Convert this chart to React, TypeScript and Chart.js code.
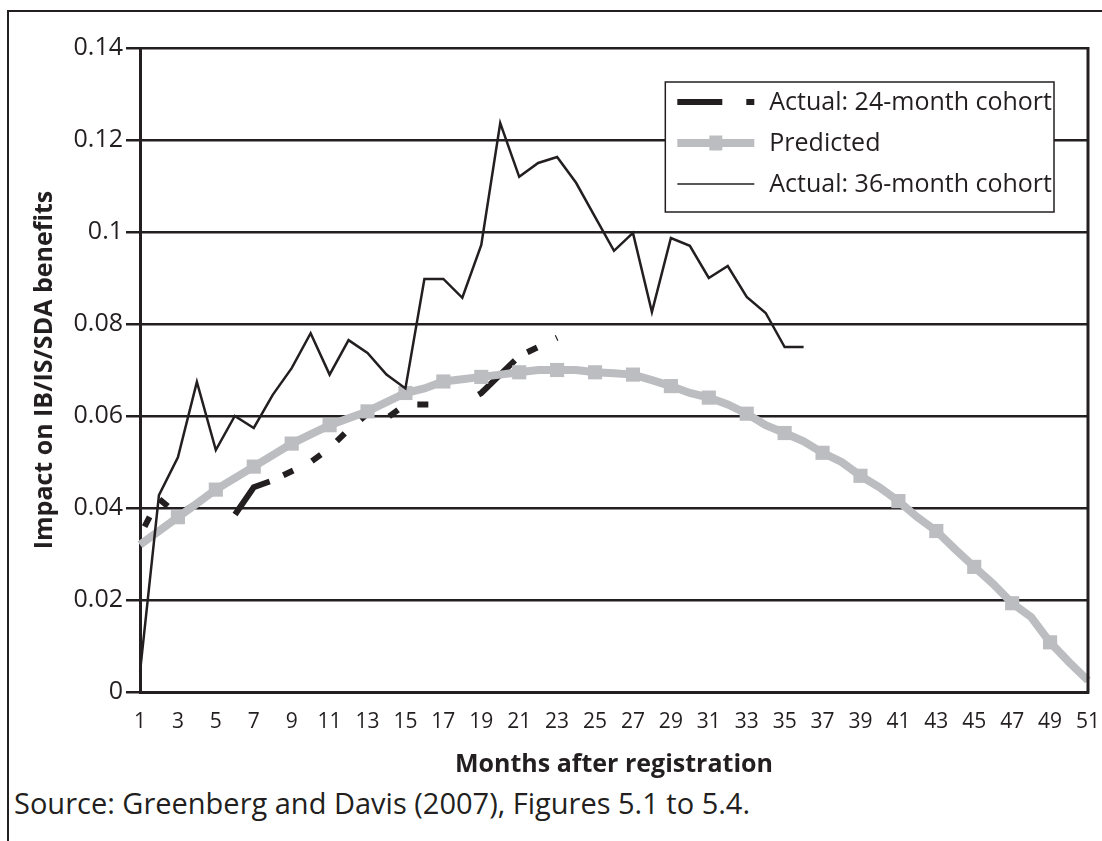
import React, { useEffect, useRef } from 'react';
import { Chart, registerables } from 'chart.js';

Chart.register(...registerables);

// ---- data ----
const months = [
  '1', '2', '3', '4', '5', '6', '7', '8', '9', '10',
  '11', '12', '13', '14', '15', '16', '17', '18', '19', '20',
  '21', '22', '23', '24', '25', '26', '27', '28', '29', '30',
  '31', '32', '33', '34', '35', '36', '37', '38', '39', '40',
  '41', '42', '43', '44', '45', '46', '47', '48', '49', '50', '51',
];
const xTickLabels = [
  '1', '3', '5', '7', '9', '11', '13', '15', '17', '19', '21', '23', '25',
  '27', '29', '31', '33', '35', '37', '39', '41', '43', '45', '47', '49', '51',
];
const yTickValues = [0, 0.02, 0.04, 0.06, 0.08, 0.1, 0.12, 0.14];
const yTickLabels = ['0', '0.02', '0.04', '0.06', '0.08', '0.1', '0.12', '0.14'];

const seriesNames = ['Actual: 24-month cohort', 'Predicted', 'Actual: 36-month cohort'];

const actual24 = [
  0.034, 0.042, 0.0385, 0.041, 0.043, 0.0385, 0.0445, 0.046, 0.048, 0.050,
  0.053, 0.057, 0.0605, 0.0595, 0.0625, 0.0625, 0.0625, 0.0625, 0.065, 0.069,
  0.073, 0.075, 0.077,
];

const predicted = [
  0.032, 0.035, 0.038, 0.041, 0.044, 0.0465, 0.049, 0.0515, 0.054, 0.056,
  0.058, 0.0595, 0.061, 0.063, 0.065, 0.066, 0.0675, 0.068, 0.0685, 0.069,
  0.0695, 0.070, 0.070, 0.070, 0.0695, 0.0693, 0.069, 0.0678, 0.0665, 0.065,
  0.064, 0.0625, 0.0605, 0.058, 0.0563, 0.0545, 0.052, 0.050, 0.047, 0.0445,
  0.0415, 0.038, 0.035, 0.031, 0.0272, 0.0235, 0.0193, 0.0163, 0.0108, 0.0065,
  0.0025,
];

const actual36 = [
  0.0043, 0.0428, 0.051, 0.0674, 0.0526, 0.060, 0.0574, 0.0646, 0.0704, 0.078,
  0.069, 0.0765, 0.0737, 0.069, 0.066, 0.0898, 0.0898, 0.0857, 0.0972, 0.1237,
  0.112, 0.115, 0.1163, 0.1107, 0.1033, 0.0959, 0.0998, 0.0826, 0.0987, 0.097,
  0.090, 0.0926, 0.0859, 0.0824, 0.075, 0.075,
];

// ---- styles ----
const INK = '#231f20';
const GREY = '#bcbdc0';
const FONT = '"Open Sans", "Noto Sans", sans-serif';

const dash24 = [50, 15, 11, 21, 11, 21, 11, 21, 11, 21, 11, 21, 11, 53];

const legendSamples = [
  { color: INK, width: 6, dash: [45, 24, 9, 200], marker: false },
  { color: GREY, width: 8, dash: [], marker: true },
  { color: INK, width: 1.5, dash: [], marker: false },
];

const frameAndLegend = {
  id: 'frameAndLegend',
  afterDatasetsDraw(chart: any) {
    const { ctx, chartArea } = chart;
    ctx.save();
    ctx.strokeStyle = INK;
    ctx.lineWidth = 3;
    ctx.beginPath();
    ctx.moveTo(chartArea.right, chartArea.top - 1);
    ctx.lineTo(chartArea.right, chartArea.bottom + 1.5);
    ctx.stroke();
    ctx.restore();
  },
  afterDraw(chart: any) {
    const { ctx, chartArea } = chart;
    const datasets = chart.data.datasets;
    ctx.save();
    ctx.font = `25px ${FONT}`;
    let textW = 0;
    datasets.forEach((d: any) => {
      textW = Math.max(textW, ctx.measureText(d.label).width);
    });
    const textOffset = 104;
    const boxW = textOffset + textW + 2;
    const boxH = 130;
    const boxRight = chartArea.right - 34;
    const boxTop = chartArea.top + 34;
    const boxLeft = boxRight - boxW;
    ctx.fillStyle = '#ffffff';
    ctx.fillRect(boxLeft, boxTop, boxW, boxH);
    ctx.strokeStyle = INK;
    ctx.lineWidth = 1.5;
    ctx.strokeRect(boxLeft, boxTop, boxW, boxH);
    datasets.forEach((d: any, i: number) => {
      const s = legendSamples[i];
      const y = boxTop + 20 + i * 41;
      const x0 = boxLeft + 12;
      const x1 = boxLeft + 89;
      ctx.strokeStyle = s.color;
      ctx.lineWidth = s.width;
      ctx.lineCap = 'butt';
      ctx.setLineDash(s.dash);
      ctx.beginPath();
      ctx.moveTo(x0, y);
      ctx.lineTo(x1, y);
      ctx.stroke();
      ctx.setLineDash([]);
      if (s.marker) {
        ctx.fillStyle = s.color;
        ctx.fillRect((x0 + x1) / 2 - 6.5, y - 7.5, 13, 15);
      }
      ctx.fillStyle = INK;
      ctx.textAlign = 'left';
      ctx.textBaseline = 'middle';
      ctx.fillText(d.label, boxLeft + textOffset, y + 1);
    });
    ctx.restore();
  },
};

export default function App() {
  const canvasRef = useRef<HTMLCanvasElement | null>(null);

  useEffect(() => {
    if (!canvasRef.current) return;
    const chart = new Chart(canvasRef.current, {
      type: 'line',
      data: {
        labels: months,
        datasets: [
          {
            label: seriesNames[0],
            data: actual24,
            borderColor: INK,
            backgroundColor: INK,
            borderWidth: 6,
            borderDash: dash24,
            borderDashOffset: 151,
            borderCapStyle: 'butt',
            pointRadius: 0,
            fill: false,
            tension: 0,
            order: 2,
          },
          {
            label: seriesNames[1],
            data: predicted,
            borderColor: GREY,
            backgroundColor: GREY,
            borderWidth: 8,
            pointStyle: 'rect',
            pointRadius: (c: any) =>
              c.dataIndex > 0 && c.dataIndex < predicted.length - 1 && c.dataIndex % 2 === 0 ? 10 : 0,
            pointBorderWidth: 0,
            pointBackgroundColor: GREY,
            fill: false,
            tension: 0,
            order: 1,
          },
          {
            label: seriesNames[2],
            data: actual36,
            borderColor: INK,
            backgroundColor: INK,
            borderWidth: 2.5,
            pointRadius: 0,
            fill: false,
            tension: 0,
            order: 0,
          },
        ],
      },
      options: {
        animation: false,
        responsive: true,
        maintainAspectRatio: false,
        events: [],
        layout: { padding: { left: 0, top: 36, right: 14, bottom: 0 } },
        plugins: {
          legend: { display: false },
          tooltip: { enabled: false },
        },
        scales: {
          x: {
            type: 'category',
            offset: false,
            grid: { display: false, drawTicks: false, tickLength: 0 },
            border: { display: true, color: INK, width: 3 },
            ticks: {
              autoSkip: false,
              maxRotation: 0,
              minRotation: 0,
              padding: 17,
              color: INK,
              font: { family: FONT, size: 21 },
              callback: (_v: any, idx: number) =>
                xTickLabels.includes(months[idx]) ? months[idx] : '',
            },
            title: {
              display: true,
              text: 'Months after registration',
              color: INK,
              font: { family: FONT, size: 25, weight: 'bold' },
              padding: { top: 0, bottom: 2 },
            },
            afterFit: (s: any) => {
              s.height = 90;
              s.paddingRight = 12;
              s.paddingLeft = 10;
            },
          },
          y: {
            min: 0,
            max: 0.14,
            grid: { color: INK, lineWidth: 2.5, tickLength: 14, drawTicks: true },
            border: { display: true, color: INK, width: 3 },
            ticks: {
              stepSize: 0.02,
              padding: 3,
              color: INK,
              font: { family: FONT, size: 25 },
              callback: (v: any) => {
                const i = yTickValues.findIndex((t) => Math.abs(t - Number(v)) < 1e-9);
                return i >= 0 ? yTickLabels[i] : '';
              },
            },
            title: {
              display: true,
              text: 'Impact on IB/IS/SDA benefits',
              color: INK,
              font: { family: FONT, size: 25, weight: 'bold' },
              padding: { top: 20, bottom: 0 },
            },
            afterFit: (s: any) => {
              s.width = 130;
            },
          },
        },
      } as any,
      plugins: [frameAndLegend],
    });
    return () => chart.destroy();
  }, []);

  return (
    <div
      style={{
        position: 'absolute',
        left: 7,
        top: 10,
        width: 1095,
        height: 831,
        boxSizing: 'border-box',
        borderTop: `2px solid ${INK}`,
        borderLeft: `2px solid ${INK}`,
        overflow: 'hidden',
        background: '#fff',
      }}
    >
      <div style={{ position: 'absolute', left: 1, top: 0, width: 1092, height: 770 }}>
        <canvas ref={canvasRef} />
      </div>
      <div
        style={{
          position: 'absolute',
          left: 5,
          top: 774,
          fontFamily: FONT,
          fontSize: 29,
          lineHeight: '34px',
          color: INK,
          whiteSpace: 'nowrap',
        }}
      >
        Source: Greenberg and Davis (2007), Figures 5.1 to 5.4.
      </div>
    </div>
  );
}
